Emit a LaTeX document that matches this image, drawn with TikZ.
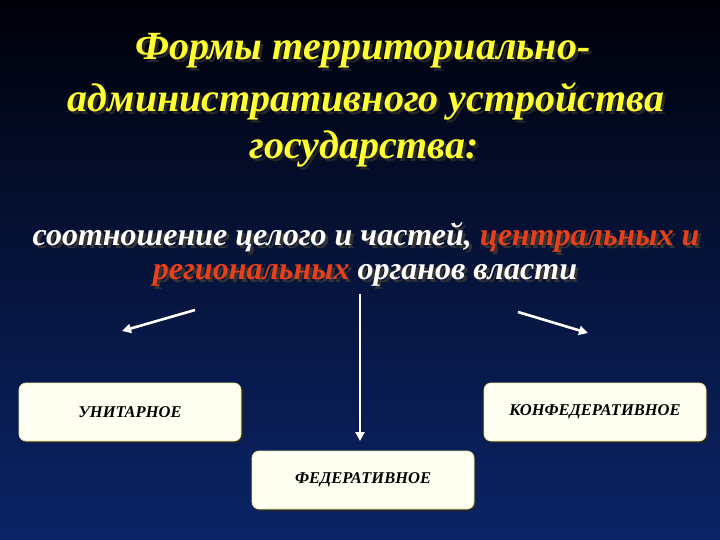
\documentclass[tikz,border=0pt]{standalone}
\usepackage{fontspec}
\setmainfont{Liberation Serif}
\usetikzlibrary{arrows.meta}
\definecolor{bgtop}{HTML}{000008}
\definecolor{bgbot}{HTML}{0B2466}
\definecolor{ttl}{HTML}{FFFF33}
\definecolor{hl}{HTML}{E8401A}
\definecolor{boxfill}{HTML}{FFFFF2}
\definecolor{boxedge}{HTML}{E6E6A0}
\tikzset{
  ttltext/.style={font=\fontsize{40}{46}\selectfont\bfseries\itshape, text=ttl, align=center},
  shadowtext/.style={font=\fontsize{40}{46}\selectfont\bfseries\itshape, text=black!85, align=center},
  subtext/.style={font=\fontsize{32}{36}\selectfont\bfseries\itshape, text=white, align=center},
  subshadow/.style={font=\fontsize{32}{36}\selectfont\bfseries\itshape, text=black!80, align=center},
  formbox/.style={draw=boxedge, line width=0.8pt, fill=boxfill, rounded corners=7pt,
    minimum width=222pt, minimum height=58pt, inner sep=0pt,
    font=\fontsize{16.5}{18}\selectfont\bfseries\itshape, text=black},
  boxshadow/.style={fill=black!85, rounded corners=7pt, minimum width=222pt, minimum height=58pt},
  arr/.style={draw=white, line width=2.6pt, -{Triangle[length=9pt,width=9pt]}}
}
\begin{document}
\begin{tikzpicture}[x=1pt,y=-1pt]
\shade[top color=bgtop, bottom color=bgbot, middle color=bgbot!55!bgtop] (0,0) rectangle (720,540);
\useasboundingbox (0,0) rectangle (720,540);
% title
\node[shadowtext] at (366,54) {Формы территориально-};
\node[shadowtext] at (369,104) {административного устройства};
\node[shadowtext] at (367,152) {государства:};
\node[ttltext] (t1) at (363,51) {Формы территориально-};
\node[ttltext] (t2) at (366,101) {административного устройства};
\node[ttltext] (t3) at (364,149) {государства:};
% subtitle
\node[subshadow] at (369,240) {соотношение целого и частей, центральных и};
\node[subshadow] at (368,278) {региональных органов власти};
\node[subtext] (s1) at (366,237) {соотношение целого и частей, \textcolor{hl}{центральных и}};
\node[subtext] (s2) at (365,275) {\textcolor{hl}{региональных} органов власти};
% arrows
\coordinate (la) at (195,310);
\coordinate (lb) at (122,331);
\coordinate (ca) at (360,294);
\coordinate (cb) at (360,441);
\coordinate (ra) at (518,312);
\coordinate (rb) at (588,333);
\draw[arr] (la) -- (lb);
\draw[arr] (ca) -- (cb);
\draw[arr] (ra) -- (rb);
% boxes
\node[boxshadow] at (132,414) {};
\node[boxshadow] at (597,414) {};
\node[boxshadow] at (365,482) {};
\node[formbox] (u) at (130,412) {УНИТАРНОЕ};
\node[formbox] (k) at (595,412) {КОНФЕДЕРАТИВНОЕ};
\node[formbox] (f) at (363,480) {ФЕДЕРАТИВНОЕ};
\end{tikzpicture}
\end{document}
